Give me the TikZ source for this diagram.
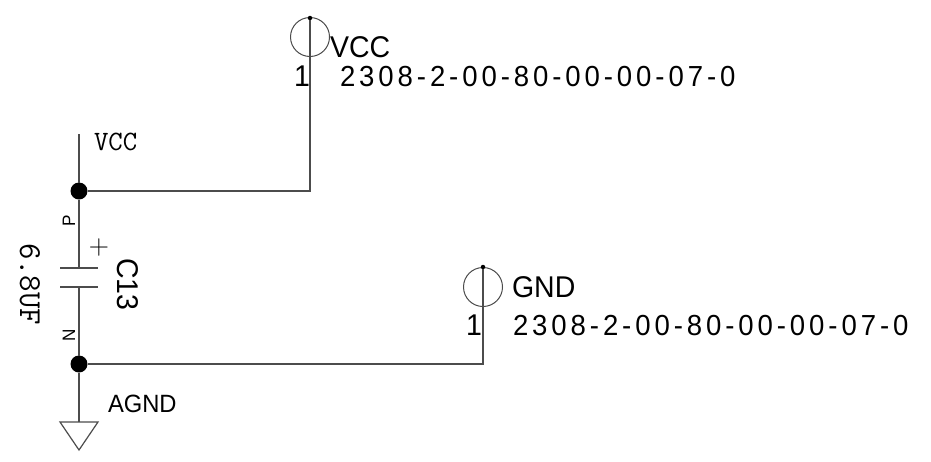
\documentclass[tikz,border=0pt]{standalone}
\usepackage{fontspec}
\newfontfamily\arialfont[FakeStretch=0.95]{Liberation Sans}
\newfontfamily\partfont[LetterSpace=13.5,FakeStretch=0.95]{Liberation Sans}
\usetikzlibrary{arrows.meta,calc,positioning}

\begin{document}
\begin{tikzpicture}[
    x=1pt, y=-1pt,
    every node/.style={inner sep=0pt, outer sep=0pt, anchor=base west, text=black},
    wire/.style={draw=black!70, line width=1.2pt},
    junction/.style={circle, fill=black, minimum size=17pt},
    paddot/.style={circle, fill=black, minimum size=4.5pt},
    padring/.style={circle, draw=black!70, line width=1pt, minimum size=39pt, anchor=center},
    labelbig/.style={font=\arialfont\fontsize{30}{30}\selectfont},
    labelpart/.style={font=\partfont\fontsize{29}{29}\selectfont},
    labelsmall/.style={font=\arialfont\fontsize{18}{18}\selectfont}
]
    \useasboundingbox (0,0) rectangle (931,461);

    % Junctions
    \node[junction, anchor=center] (jVCC) at (79,191) {};
    \node[junction, anchor=center] (jGND) at (79,364) {};

    % Test points
    \node[padring] (ringVCC) at (310,37) {};
    \node[paddot, anchor=center] (dotVCC) at (310,18) {};
    \node[padring] (ringGND) at (483,287) {};
    \node[paddot, anchor=center] (dotGND) at (483,267) {};

    % Capacitor
    \coordinate (capP) at (79,268);
    \coordinate (capN) at (79,287);
    \coordinate (capPl) at (60,268);
    \coordinate (capPr) at (98,268);
    \coordinate (capNl) at (60,287);
    \coordinate (capNr) at (98,287);

    % Supply ends
    \coordinate (railVCC) at (79,134);
    \coordinate (symTop) at (79,422);
    \coordinate (symL) at (60,422);
    \coordinate (symR) at (98,422);
    \coordinate (symB) at (79,450);

    % Wires
    \draw[wire] (railVCC) -- (jVCC);
    \draw[wire] (jVCC) -- (capP);
    \draw[wire] (capPl) -- (capPr);
    \draw[wire] (capNl) -- (capNr);
    \draw[wire] (capN) -- (jGND);
    \draw[wire] (jGND) -- (symTop);
    \draw[wire] (symL) -- (symR) -- (symB) -- cycle;
    \draw[wire] (dotVCC) |- (jVCC);
    \draw[wire] (dotGND) |- (jGND);

    % Labels
    \node[labelbig] (nameVCC) at (330,57) {VCC};
    \node[labelbig] (pinVCC) at (294,86) {1};
    \node[labelpart] (partVCC) at (340,86) {2308-2-00-80-00-00-07-0};
    \node[labelbig] (nameGND) at (512,297) {GND};
    \node[labelbig] (pinGND) at (466,335) {1};
    \node[labelpart] (partGND) at (513,335) {2308-2-00-80-00-00-07-0};
    \node[font=\ttfamily\fontsize{28}{28}\selectfont] (netVCC) at (94,150) {VCC};
    \node[font=\arialfont\fontsize{25}{25}\selectfont] (netGND) at (108,412) {AGND};
    \node[font=\rmfamily\fontsize{28}{28}\selectfont, anchor=center] (plus) at (99,248) {+};
    \node[labelbig, rotate=-90] (capName) at (117,258) {C13};
    \node[font=\ttfamily\fontsize{32}{32}\selectfont, rotate=-90] (capValue) at (20,243) {6.8UF};
    \node[labelsmall, rotate=90] (pinP) at (75,226) {P};
    \node[labelsmall, rotate=90] (pinN) at (75,341) {N};
\end{tikzpicture}
\end{document}
